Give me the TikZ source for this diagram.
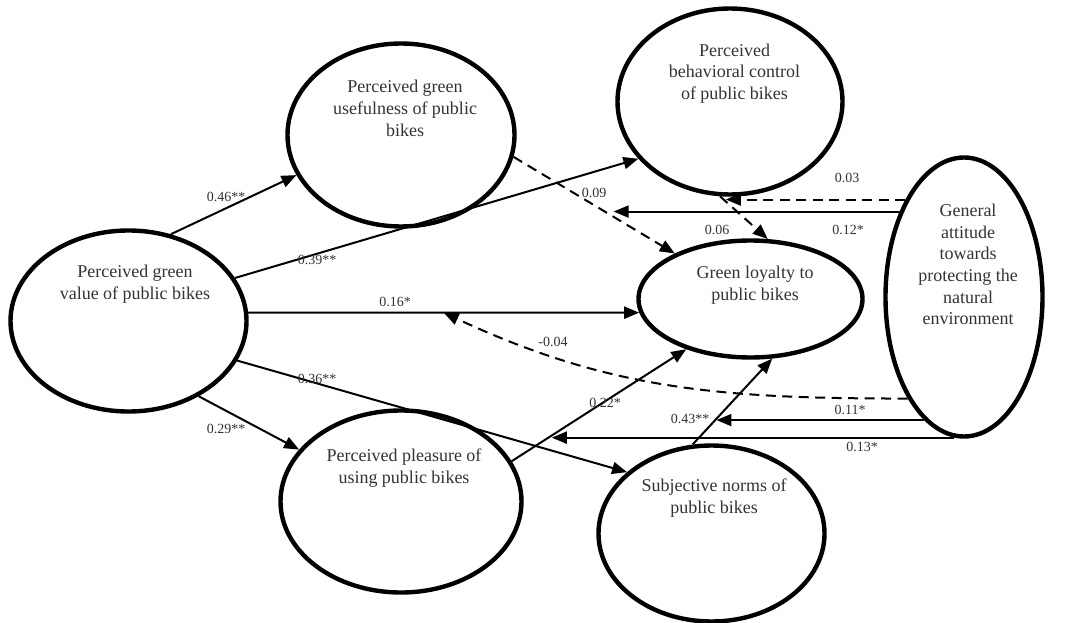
\documentclass[tikz,border=0pt]{standalone}
\usepackage{fontspec}
\setmainfont{Liberation Serif}
\usetikzlibrary{shapes.geometric,arrows.meta}

\begin{document}
\begin{tikzpicture}
  [x=1pt,y=-1pt,every node/.style={text=black!80},
   lv/.style={draw,ellipse,line width=4.4pt,inner sep=0pt},
   txt/.style={align=center,font=\fontsize{18}{21.7}\selectfont},
   lbl/.style={font=\fontsize{14}{16}\selectfont,inner sep=1pt},
   eff/.style={line width=2pt,-{Triangle[length=15pt,width=12pt]}},
   deff/.style={eff,dash pattern=on 10pt off 6.5pt}]
  \useasboundingbox (0,0) rectangle (1065,623);

  \node[lv,minimum width=236pt,minimum height=181pt] (pgv) at (128.5,321) {};
  \node[lv,minimum width=227pt,minimum height=183pt] (pgu) at (401,135) {};
  \node[lv,minimum width=225pt,minimum height=186pt] (pbc) at (730,101.5) {};
  \node[lv,minimum width=224pt,minimum height=117pt] (gl) at (750.5,299) {};
  \node[lv,minimum width=157pt,minimum height=279pt] (ga) at (964,297) {};
  \node[lv,minimum width=241pt,minimum height=182pt] (pp) at (401,501.5) {};
  \node[lv,minimum width=226pt,minimum height=176pt] (sn) at (711.5,533.5) {};

  \node[txt] (pgv-t) at (135,284) {Perceived green\\value of public bikes};
  \node[txt] (pgu-t) at (405,108.5) {Perceived green\\usefulness of public\\bikes};
  \node[txt] (pbc-t) at (734.5,73.5) {Perceived\\behavioral control\\of public bikes};
  \node[txt] (gl-t) at (755,285.5) {Green loyalty to\\public bikes};
  \node[txt] (ga-t) at (968,264.5) {General\\attitude\\towards\\protecting the\\natural\\environment};
  \node[txt] (pp-t) at (404,468) {Perceived pleasure of\\using public bikes};
  \node[txt] (sn-t) at (714,498) {Subjective norms of\\public bikes};

  \foreach \from/\to in {pgv.64/pgu.201,pgv.22/pbc.212,pgv.340/sn.144,pgv.313/pp.153}
    \draw[eff] (\from) -- (\to);

  \draw[eff] (pgv.4) -- coordinate[pos=.5] (c1) (gl.187);
  \draw[deff] (pgu.349) -- coordinate[pos=.62] (c2) (gl.149);
  \draw[deff] (pbc.264) -- coordinate[pos=.12] (c3) (gl.74);
  \draw[eff] (pp.20) -- coordinate[pos=.23] (c4) (gl.218);
  \draw[eff] (sn.102) -- coordinate[pos=.3] (c5) (gl.290);

  % moderating paths from the attitude
  \draw[deff] (ga.121) -- (ga.121 -| c3);
  \draw[eff] (ga.127) -- (ga.127 -| c2);
  \draw[deff] (ga.241) to[out=180,in=-25] (c1);
  \draw[eff] (ga.252) -- (ga.252 -| c5);
  \draw[eff] (ga.266) -- (ga.266 -| c4);

  \foreach \x/\y/\t [count=\i] in {226/197/0.46**,317/260/0.39**,395/302/0.16*,
      317/379/0.36**,226/429/0.29**,594/193/0.09,717/230/0.06,847/178/0.03,
      848/230/0.12*,553/342/-0.04,850/410/0.11*,862/447/0.13*,605/403/0.22*,
      690/419/0.43**}
    \node[lbl] (w\i) at (\x,\y) {\t};

\end{tikzpicture}
\end{document}
